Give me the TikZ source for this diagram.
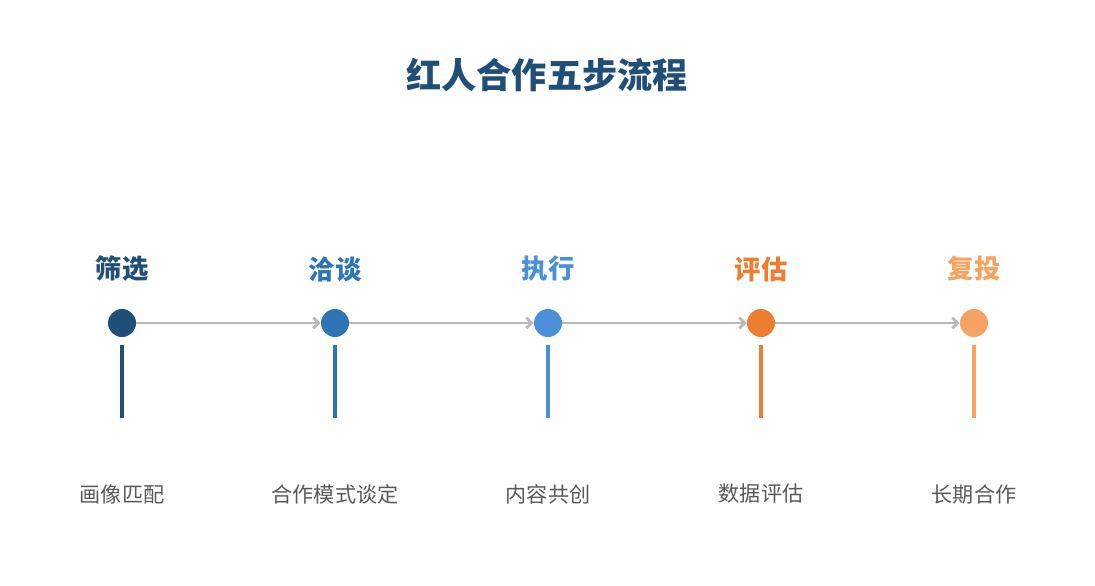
\documentclass[tikz,border=0pt]{standalone}
\usepackage{fontspec}
\setmainfont{Noto Sans CJK SC}
\usetikzlibrary{positioning,arrows.meta}
\definecolor{cA}{HTML}{1F4E79}
\definecolor{cB}{HTML}{2E75B6}
\definecolor{cC}{HTML}{4A90D9}
\definecolor{cD}{HTML}{ED7D31}
\definecolor{cE}{HTML}{F4A460}
\definecolor{txtgray}{HTML}{595959}
\begin{document}
\begin{tikzpicture}[x=0.02cm,y=-0.02cm,
  dot/.style={circle,fill=#1,inner sep=0pt,minimum size=0.56cm},
  step/.style={font=\bfseries\fontsize{15}{18}\selectfont,text=#1},
  desc/.style={font=\fontsize{12}{14}\selectfont,text=txtgray},
  link/.style={draw=gray!55,line width=1.6pt,-{Straight Barb[length=3pt,width=6pt]}},
  stem/.style={draw=#1,line width=2.4pt}]
\useasboundingbox (0,0) rectangle (1095,585);
\node[font=\bfseries\fontsize{20}{24}\selectfont,text=cA] (title) at (547,75) {红人合作五步流程};
% 步骤
\foreach \i/\x/\c/\s/\d in {1/122/cA/筛选/画像匹配,2/335/cB/洽谈/合作模式谈定,3/548/cC/执行/内容共创,4/761/cD/评估/数据评估,5/974/cE/复投/长期合作}{
  \node[dot=\c] (d\i) at (\x,323) {};
  \node[step=\c] (s\i) at (\x,269) {\s};
  \coordinate (t\i) at (\x,345);
  \coordinate (b\i) at (\x,418);
  \draw[stem=\c] (t\i) -- (b\i);
  \node[desc] (l\i) at (\x,494) {\d};
}
\foreach \i/\j in {1/2,2/3,3/4,4/5}
  \draw[link] (d\i) -- (d\j);
\end{tikzpicture}
\end{document}
